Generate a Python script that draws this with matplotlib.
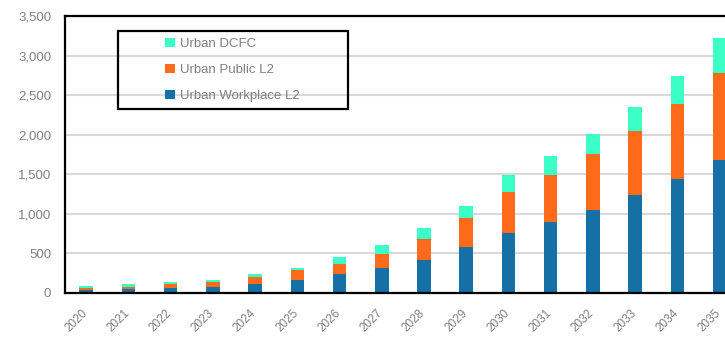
import matplotlib.pyplot as plt
from matplotlib.patches import Rectangle
from matplotlib.ticker import FuncFormatter
from matplotlib.transforms import ScaledTranslation

years = [str(y) for y in range(2020, 2036)]
workplace_l2 = [38, 55, 60, 80, 112, 158, 240, 316, 421, 581, 762, 893, 1049, 1234, 1440, 1676]
public_l2 = [21, 21, 50, 55, 96, 128, 126, 181, 261, 362, 518, 598, 703, 809, 944, 1100]
dcfc = [26, 34, 25, 29, 32, 32, 85, 105, 135, 156, 211, 240, 261, 311, 362, 442]

c_work = "#1570A6"
c_pub = "#FC6A1A"
c_dcfc = "#3CFFC8"
grey = "#7F7F7F"

plt.rcParams.update({
    "font.family": ["Liberation Sans", "DejaVu Sans"],
    "font.size": 9,
})

fig = plt.figure(figsize=(7.25, 3.39), dpi=100)
ax = fig.add_axes([0.0897, 0.1357, 0.932, 0.8173])

x = list(range(len(years)))
w = 0.32
bottom2 = [a + b for a, b in zip(workplace_l2, public_l2)]
ax.bar(x, workplace_l2, w, color=c_work, label="Urban Workplace L2", zorder=3)
ax.bar(x, public_l2, w, bottom=workplace_l2, color=c_pub, label="Urban Public L2", zorder=3)
ax.bar(x, dcfc, w, bottom=bottom2, color=c_dcfc, label="Urban DCFC", zorder=3)

ax.set_xlim(-0.5, len(years) - 0.5)
ax.set_ylim(0, 3500)
ax.set_yticks(range(0, 3501, 500))
ax.yaxis.set_major_formatter(FuncFormatter(lambda v, p: f"{int(v):,}"))
ax.set_xticks(x)
ax.set_xticklabels(years, rotation=45, ha="right", rotation_mode="anchor")
ax.tick_params(axis="both", length=0, colors=grey)
ax.tick_params(axis="y", pad=10, labelsize=9.5)
ax.tick_params(axis="x", pad=10, labelsize=8.5)
shift = ScaledTranslation(-5 / 100, 0, fig.dpi_scale_trans)
for t in ax.get_xticklabels():
    t.set_transform(t.get_transform() + shift)
ax.grid(axis="y", color="#D9D9D9", linewidth=1.5, zorder=0)
for s in ax.spines.values():
    s.set_color("black")
    s.set_linewidth(1.6)
    s.set_zorder(4)

# legend: frame drawn separately, entries centered inside it
h, l = ax.get_legend_handles_labels()
leg = ax.legend(h[::-1], l[::-1], loc="center", bbox_to_anchor=(0.248, 0.805),
                frameon=False, handlelength=0.7, handleheight=0.7,
                handletextpad=0.4, labelspacing=1.05, fontsize=9.5)
for t in leg.get_texts():
    t.set_color(grey)
ax.add_patch(Rectangle((0.0784, 0.664), 0.340, 0.282, transform=ax.transAxes,
                       fill=False, edgecolor="black", linewidth=1.6, zorder=5))

fig.savefig("out.png", dpi=100)
